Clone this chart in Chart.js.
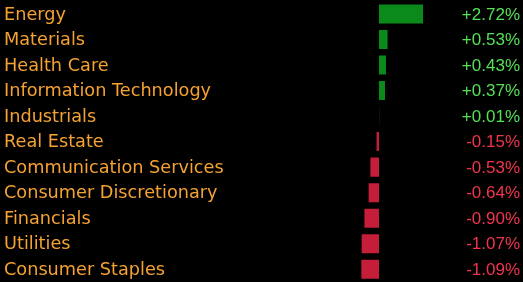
<!DOCTYPE html>
<html>
<head>
<meta charset="utf-8">
<script src="https://cdn.jsdelivr.net/npm/chart.js@4"></script>
<style>
  html, body { margin: 0; padding: 0; background: #000; }
  #wrap { width: 523px; height: 282px; }
</style>
</head>
<body>
<div id="wrap"><canvas id="chart"></canvas></div>
<script>
const sectors = ["Energy", "Materials", "Health Care", "Information Technology", "Industrials",
  "Real Estate", "Communication Services", "Consumer Discretionary", "Financials", "Utilities",
  "Consumer Staples"];
const changes = [2.72, 0.53, 0.43, 0.37, 0.01, -0.15, -0.53, -0.64, -0.90, -1.07, -1.09];

// sector names on the left, percentage text on the right
const rowText = {
  id: "rowText",
  afterDraw(c) {
    const ctx = c.ctx;
    const y = c.scales.y;
    ctx.save();
    ctx.textBaseline = "middle";
    ctx.font = "17.7px 'DejaVu Sans'";
    ctx.textAlign = "left";
    ctx.fillStyle = "#f5a233";
    sectors.forEach((s, i) => ctx.fillText(s, 4, y.getPixelForValue(i) + 1));
    ctx.font = "17px 'Liberation Sans'";
    ctx.textAlign = "right";
    changes.forEach((v, i) => {
      ctx.fillStyle = v >= 0 ? "#56e056" : "#f0354c";
      const txt = (v >= 0 ? "+" : "-") + Math.abs(v).toFixed(2) + "%";
      ctx.fillText(txt, 520, y.getPixelForValue(i) + 1);
    });
    ctx.restore();
  }
};

new Chart(document.getElementById("chart"), {
  type: "bar",
  data: {
    labels: sectors,
    datasets: [{
      data: changes,
      backgroundColor: changes.map(v => v >= 0 ? "#0b8a1c" : "#c41e3a"),
      barPercentage: 0.745,
      categoryPercentage: 1
    }]
  },
  options: {
    indexAxis: "y",
    responsive: true,
    maintainAspectRatio: false,
    animation: false,
    layout: { padding: { left: 346.6, right: 95.4, top: 1.2, bottom: 0 } },
    plugins: { legend: { display: false }, tooltip: { enabled: false } },
    scales: {
      x: { display: false, min: -2, max: 3 },
      y: { display: false }
    }
  },
  plugins: [rowText]
});
</script>
</body>
</html>
